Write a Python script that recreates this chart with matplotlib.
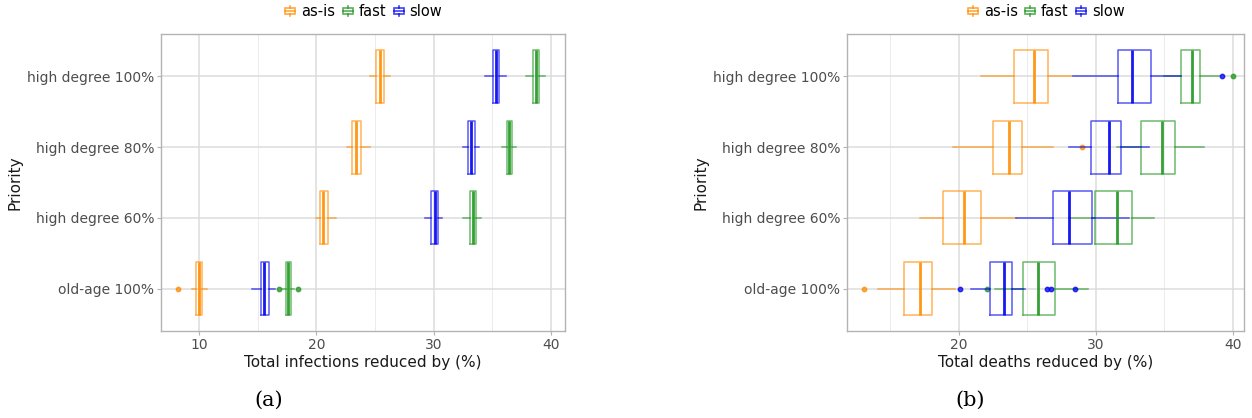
import matplotlib
matplotlib.use("Agg")
import matplotlib.pyplot as plt
from matplotlib.lines import Line2D
from matplotlib.patches import Rectangle
from matplotlib.legend_handler import HandlerBase
from matplotlib.ticker import MultipleLocator

# categories, bottom to top
priorities = ["old-age 100%", "high degree 60%", "high degree 80%", "high degree 100%"]
series = ["as-is", "fast", "slow"]
colors = {"as-is": "#ff8c00", "fast": "#1f961f", "slow": "#0000ee"}

# (a) total infections reduced by (%)
inf_asis_med = [10.0, 20.6, 23.4, 25.45]
inf_asis_q1 = [9.75, 20.35, 23.05, 25.1]
inf_asis_q3 = [10.25, 21.0, 23.8, 25.8]
inf_asis_lo = [9.4, 20.0, 22.6, 24.6]
inf_asis_hi = [10.7, 21.7, 24.6, 26.3]
inf_asis_out = [[8.2], [], [], []]

inf_fast_med = [17.6, 33.35, 36.45, 38.7]
inf_fast_q1 = [17.4, 33.1, 36.25, 38.45]
inf_fast_q3 = [17.8, 33.65, 36.7, 38.95]
inf_fast_lo = [17.1, 32.5, 35.8, 37.9]
inf_fast_hi = [18.1, 34.0, 37.05, 39.5]
inf_fast_out = [[16.85, 18.45], [], [], []]

inf_slow_med = [15.5, 30.1, 33.2, 35.3]
inf_slow_q1 = [15.25, 29.8, 32.9, 35.05]
inf_slow_q3 = [15.95, 30.4, 33.5, 35.6]
inf_slow_lo = [14.55, 29.3, 32.5, 34.4]
inf_slow_hi = [16.45, 30.75, 33.9, 36.15]
inf_slow_out = [[], [], [], []]

# (b) total deaths reduced by (%)
dth_asis_med = [17.2, 20.4, 23.65, 25.45]
dth_asis_q1 = [16.0, 18.85, 22.5, 24.05]
dth_asis_q3 = [18.05, 21.6, 24.6, 26.5]
dth_asis_lo = [14.1, 17.2, 19.6, 21.6]
dth_asis_hi = [19.7, 24.2, 26.85, 28.25]
dth_asis_out = [[13.1], [], [29.0], []]

dth_fast_med = [25.8, 31.5, 34.8, 37.0]
dth_fast_q1 = [24.65, 29.9, 33.3, 36.2]
dth_fast_q3 = [27.0, 32.65, 35.75, 37.6]
dth_fast_lo = [22.6, 28.0, 31.5, 35.0]
dth_fast_hi = [29.4, 34.2, 37.85, 39.0]
dth_fast_out = [[22.05], [], [], [40.0]]

dth_slow_med = [23.3, 28.05, 30.95, 32.65]
dth_slow_q1 = [22.3, 26.85, 29.65, 31.6]
dth_slow_q3 = [23.85, 29.7, 31.85, 34.05]
dth_slow_lo = [20.9, 24.2, 28.0, 28.35]
dth_slow_hi = [24.85, 32.4, 33.9, 36.2]
dth_slow_out = [[20.1, 26.45, 26.75, 28.45], [], [], [39.2]]

infections = {
    "as-is": (inf_asis_med, inf_asis_q1, inf_asis_q3, inf_asis_lo, inf_asis_hi, inf_asis_out),
    "fast": (inf_fast_med, inf_fast_q1, inf_fast_q3, inf_fast_lo, inf_fast_hi, inf_fast_out),
    "slow": (inf_slow_med, inf_slow_q1, inf_slow_q3, inf_slow_lo, inf_slow_hi, inf_slow_out),
}
deaths = {
    "as-is": (dth_asis_med, dth_asis_q1, dth_asis_q3, dth_asis_lo, dth_asis_hi, dth_asis_out),
    "fast": (dth_fast_med, dth_fast_q1, dth_fast_q3, dth_fast_lo, dth_fast_hi, dth_fast_out),
    "slow": (dth_slow_med, dth_slow_q1, dth_slow_q3, dth_slow_lo, dth_slow_hi, dth_slow_out),
}


class BoxGlyph(HandlerBase):
    # ggplot-like boxplot key
    def create_artists(self, legend, orig_handle, xdescent, ydescent,
                       width, height, fontsize, trans):
        c = orig_handle.get_color()
        cx = width / 2 - xdescent
        bw = width * 0.75
        bh = height * 0.55
        cy = height / 2 - ydescent
        rect = Rectangle((cx - bw / 2, cy - bh / 2), bw, bh, fill=False,
                         edgecolor=c, lw=1.2, alpha=0.75, transform=trans)
        mid = Line2D([cx - bw / 2, cx + bw / 2], [cy, cy], color=c, lw=1.2,
                     alpha=0.75, transform=trans)
        top = Line2D([cx, cx], [cy + bh / 2, cy + height * 0.5], color=c,
                     lw=1.2, alpha=0.75, transform=trans)
        bot = Line2D([cx, cx], [cy - bh / 2, cy - height * 0.5], color=c,
                     lw=1.2, alpha=0.75, transform=trans)
        return [rect, mid, top, bot]


def draw_panel(ax, data, xlabel, xlim):
    pos = list(range(1, len(priorities) + 1))
    for name in series:
        med, q1, q3, lo, hi, out = data[name]
        stats = []
        for i in range(len(priorities)):
            stats.append({"med": med[i], "q1": q1[i], "q3": q3[i],
                          "whislo": lo[i], "whishi": hi[i], "fliers": out[i]})
        c = colors[name]
        ax.bxp(stats, positions=pos, widths=0.75, vert=False,
               showcaps=False, patch_artist=False,
               boxprops=dict(color=c, lw=1.1, alpha=0.65),
               whiskerprops=dict(color=c, lw=1.1, alpha=0.65),
               medianprops=dict(color=c, lw=2.0, alpha=0.9),
               flierprops=dict(marker="o", markersize=3.2, markerfacecolor=c,
                               markeredgecolor=c, alpha=0.75, linestyle="none"),
               zorder=3)
    ax.set_ylim(0.4, len(priorities) + 0.6)
    ax.set_xlim(*xlim)
    ax.set_yticks(pos)
    ax.set_yticklabels(priorities)
    ax.xaxis.set_major_locator(MultipleLocator(10))
    ax.xaxis.set_minor_locator(MultipleLocator(5))
    ax.grid(True, which="major", color="#dcdcdc", lw=1.1, zorder=0)
    ax.grid(True, which="minor", axis="x", color="#ececec", lw=0.7, zorder=0)
    ax.set_axisbelow(True)
    for s in ax.spines.values():
        s.set_color("#b3b3b3")
        s.set_linewidth(1.0)
    ax.tick_params(which="major", length=3, color="#b3b3b3", labelsize=10,
                   labelcolor="#4d4d4d", pad=2)
    ax.tick_params(which="minor", length=0)
    ax.set_xlabel(xlabel, fontsize=11, color="#1a1a1a", labelpad=2)
    ax.set_ylabel("Priority", fontsize=11, color="#1a1a1a", labelpad=3)
    handles = [Line2D([], [], color=colors[n]) for n in series]
    ax.legend(handles, series, handler_map={Line2D: BoxGlyph()},
              loc="lower center", bbox_to_anchor=(0.5, 1.03), ncol=3,
              frameon=False, fontsize=10.5, handlelength=0.9,
              handletextpad=0.3, columnspacing=0.4, borderaxespad=0.0)


fig = plt.figure(figsize=(12.52, 4.18), dpi=100)
ax1 = fig.add_axes([161 / 1252, 1 - 331 / 418, 404 / 1252, 297 / 418])
ax2 = fig.add_axes([847 / 1252, 1 - 331 / 418, 397 / 1252, 297 / 418])

draw_panel(ax1, infections, "Total infections reduced by (%)", (6.76, 41.2))
draw_panel(ax2, deaths, "Total deaths reduced by (%)", (11.84, 40.8))

fig.text(269 / 1252, 1 - 400 / 418, "(a)", ha="center", va="center",
         fontsize=15, family="DejaVu Serif")
fig.text(970 / 1252, 1 - 400 / 418, "(b)", ha="center", va="center",
         fontsize=15, family="DejaVu Serif")

fig.savefig("out.png", dpi=100)
